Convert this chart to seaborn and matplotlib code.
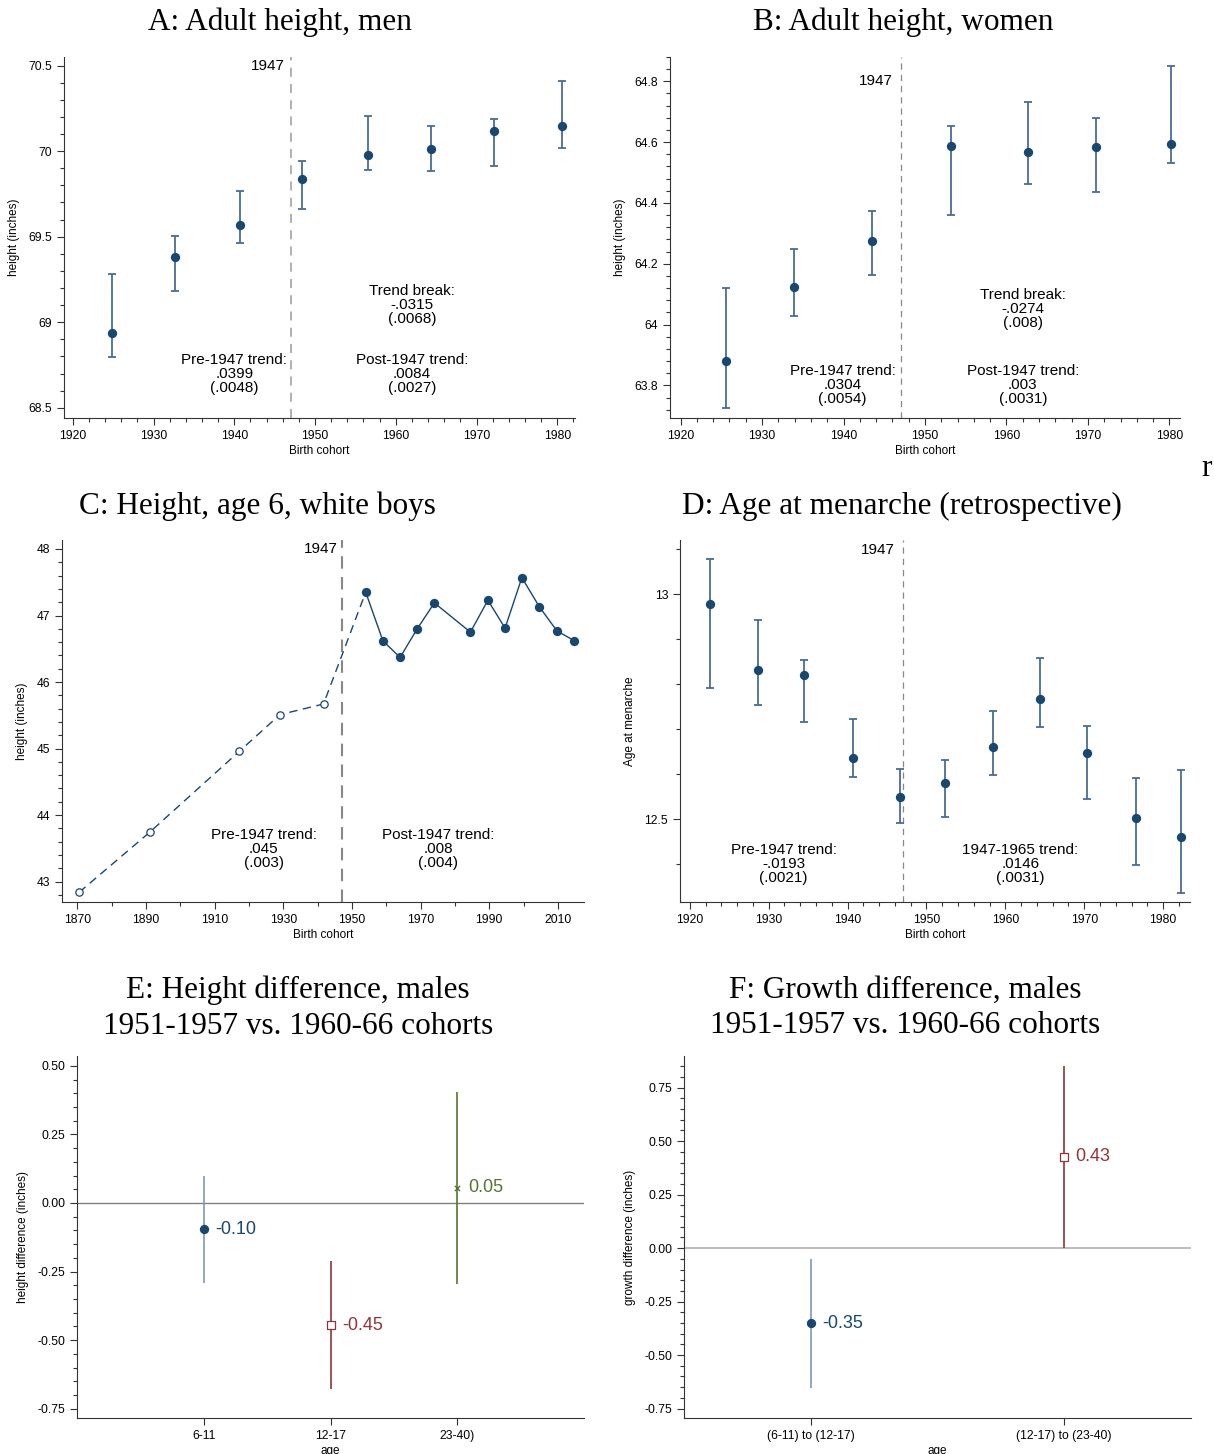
import numpy as np
import pandas as pd
import matplotlib
matplotlib.use("Agg")
import matplotlib.pyplot as plt
from matplotlib.ticker import MultipleLocator, FormatStrFormatter
import seaborn as sns

# --- data ---
# A: adult height, men
a_year = [1924.9, 1932.6, 1940.7, 1948.4, 1956.5, 1964.4, 1972.2, 1980.6]
a_mean = [68.934, 69.38, 69.567, 69.836, 69.978, 70.015, 70.116, 70.144]
a_lo = [68.796, 69.18, 69.464, 69.66, 69.89, 69.883, 69.91, 70.019]
a_hi = [69.28, 69.503, 69.766, 69.945, 70.204, 70.146, 70.185, 70.412]

# B: adult height, women
b_year = [1925.6, 1933.9, 1943.5, 1953.2, 1962.6, 1971.0, 1980.2]
b_mean = [63.882, 64.124, 64.274, 64.589, 64.569, 64.585, 64.593]
b_lo = [63.726, 64.028, 64.162, 64.361, 64.462, 64.436, 64.531]
b_hi = [64.121, 64.249, 64.375, 64.654, 64.733, 64.678, 64.849]

# C: height at age 6, white boys
c_pre_year = [1870.5, 1891, 1917.2, 1929, 1941.7]
c_pre_height = [42.84, 43.74, 44.96, 45.51, 45.67]
c_post_year = [1954, 1959, 1964, 1969, 1974, 1984.5, 1989.6, 1994.6, 1999.5, 2004.6, 2009.7, 2014.8]
c_post_height = [47.35, 46.62, 46.37, 46.80, 47.19, 46.75, 47.23, 46.81, 47.57, 47.13, 46.77, 46.62]

# D: age at menarche
d_year = [1922.5, 1928.6, 1934.5, 1940.7, 1946.7, 1952.4, 1958.4, 1964.4, 1970.3, 1976.5, 1982.2]
d_mean = [12.979, 12.831, 12.820, 12.637, 12.550, 12.580, 12.660, 12.767, 12.648, 12.503, 12.461]
d_lo = [12.792, 12.753, 12.716, 12.593, 12.492, 12.504, 12.598, 12.706, 12.544, 12.399, 12.337]
d_hi = [13.078, 12.942, 12.854, 12.723, 12.611, 12.632, 12.741, 12.859, 12.707, 12.592, 12.610]

# E: height difference by age
e_age = ["6-11", "12-17", "23-40)"]
e_diff = [-0.096, -0.446, 0.055]
e_lo = [-0.291, -0.680, -0.295]
e_hi = [0.099, -0.213, 0.403]
e_text = ["-0.10", "-0.45", "0.05"]

# F: growth difference
f_age = ["(6-11) to (12-17)", "(12-17) to (23-40)"]
f_diff = [-0.350, 0.428]
f_lo = [-0.652, 0.0]
f_hi = [-0.049, 0.853]
f_text = ["-0.35", "0.43"]

navy = "#1a476f"
ci_blue = "#4a6d94"
ci_light = "#7f99b9"
maroon = "#90353b"
green = "#55752f"

W, H = 1214, 1454
sns.set_style("ticks")
plt.rcParams["font.family"] = ["Liberation Sans", "DejaVu Sans"]
plt.rcParams["axes.edgecolor"] = "#333333"
plt.rcParams["xtick.color"] = "#333333"
plt.rcParams["ytick.color"] = "#333333"
plt.rcParams["text.color"] = "black"
plt.rcParams["axes.labelcolor"] = "black"

fig = plt.figure(figsize=(W / 100, H / 100), dpi=100)


def make_ax(left, top, right, bottom):
    return fig.add_axes([left / W, 1 - bottom / H, (right - left) / W, (bottom - top) / H])


def style(ax, xlabel, ylabel):
    sns.despine(ax=ax)
    ax.tick_params(axis="both", which="major", labelsize=8.7, length=5, width=0.8, labelcolor="black")
    ax.tick_params(axis="both", which="minor", length=3, width=0.8)
    ax.set_xlabel(xlabel, fontsize=8.5, labelpad=2)
    ax.set_ylabel(ylabel, fontsize=8.5, labelpad=6)
    ax.grid(False)


def title(x, y, s):
    fig.text(x / W, 1 - y / H, s, ha="center", va="center", fontsize=22.5,
             family=["Liberation Serif", "DejaVu Serif"], linespacing=1.3)


def note(ax, x, y, s):
    ax.text(x, y, s, ha="center", va="center", fontsize=11, linespacing=1.0)


def cohort_panel(ax, year, mean, lo, hi):
    mean = np.array(mean)
    ax.errorbar(year, mean, yerr=[mean - np.array(lo), np.array(hi) - mean], fmt="none",
                ecolor=ci_blue, elinewidth=1.3, capsize=3, capthick=1.3, zorder=2)
    sns.scatterplot(x=year, y=mean, ax=ax, color=navy, s=45, edgecolor=navy, linewidth=0, zorder=3)


# ---------------- A ----------------
ax = make_ax(64, 57, 575, 418)
cohort_panel(ax, a_year, a_mean, a_lo, a_hi)
ax.axvline(1947, color="#aaaaaa", ls=(0, (5, 4)), lw=1.3, zorder=1)
ax.set_xlim(1918.9, 1982.2)
ax.set_ylim(68.44, 70.55)
ax.set_yticks([68.5, 69, 69.5, 70, 70.5])
ax.set_yticklabels(["68.5", "69", "69.5", "70", "70.5"])
ax.set_xticks(range(1920, 1981, 10))
ax.xaxis.set_minor_locator(MultipleLocator(2))
ax.yaxis.set_minor_locator(MultipleLocator(0.1))
ax.text(1946.2, 70.5, "1947", ha="right", va="center", fontsize=11)
note(ax, 1940, 68.70, "Pre-1947 trend:\n.0399\n(.0048)")
note(ax, 1962, 68.70, "Post-1947 trend:\n.0084\n(.0027)")
note(ax, 1962, 69.10, "Trend break:\n-.0315\n(.0068)")
style(ax, "Birth cohort", "height (inches)")
title(280, 22, "A: Adult height, men")

# ---------------- B ----------------
ax = make_ax(670, 57, 1180, 418)
cohort_panel(ax, b_year, b_mean, b_lo, b_hi)
ax.axvline(1947, color="#888888", ls=(0, (5, 4)), lw=0.9, zorder=1)
ax.set_xlim(1918.7, 1981.3)
ax.set_ylim(63.693, 64.88)
ax.set_yticks([63.8, 64, 64.2, 64.4, 64.6, 64.8])
ax.set_yticklabels(["63.8", "64", "64.2", "64.4", "64.6", "64.8"])
ax.set_xticks(range(1920, 1981, 10))
ax.xaxis.set_minor_locator(MultipleLocator(2))
ax.yaxis.set_minor_locator(MultipleLocator(0.04))
ax.text(1946.0, 64.8, "1947", ha="right", va="center", fontsize=11)
note(ax, 1939.9, 63.80, "Pre-1947 trend:\n.0304\n(.0054)")
note(ax, 1962, 63.80, "Post-1947 trend:\n.003\n(.0031)")
note(ax, 1962, 64.05, "Trend break:\n-.0274\n(.008)")
style(ax, "Birth cohort", "height (inches)")
title(903, 22, "B: Adult height, women")

fig.text(1207 / W, 1 - 468 / H, "r", ha="center", va="center", fontsize=22.5,
         family=["Liberation Serif", "DejaVu Serif"])

# ---------------- C ----------------
ax = make_ax(62, 540, 584, 902)
dash_x = c_pre_year + c_post_year[:1]
dash_y = c_pre_height + c_post_height[:1]
sns.lineplot(x=dash_x, y=dash_y, ax=ax, color=navy, lw=1.0, sort=False, zorder=2)
ax.lines[-1].set_linestyle((0, (6, 4)))
sns.lineplot(x=c_post_year, y=c_post_height, ax=ax, color=navy, lw=1.0, sort=False, zorder=2)
sns.scatterplot(x=c_pre_year, y=c_pre_height, ax=ax, s=28, facecolor="white",
                edgecolor=navy, linewidth=0.9, zorder=3)
sns.scatterplot(x=c_post_year, y=c_post_height, ax=ax, s=45, color=navy, linewidth=0, zorder=3)
ax.axvline(1947, color="#888888", ls=(0, (6, 4)), lw=1.5, zorder=1)
ax.set_xlim(1865.5, 2017.6)
ax.set_ylim(42.694, 48.135)
ax.set_yticks(range(43, 49))
ax.set_xticks(range(1870, 2011, 20))
ax.xaxis.set_minor_locator(MultipleLocator(10))
ax.yaxis.set_minor_locator(MultipleLocator(0.2))
ax.text(1945.8, 48.0, "1947", ha="right", va="center", fontsize=11)
note(ax, 1924.3, 43.49, "Pre-1947 trend:\n.045\n(.003)")
note(ax, 1975.2, 43.49, "Post-1947 trend:\n.008\n(.004)")
style(ax, "Birth cohort", "height (inches)")
title(257, 506, "C: Height, age 6, white boys")

# ---------------- D ----------------
ax = make_ax(680, 540, 1190, 902)
cohort_panel(ax, d_year, d_mean, d_lo, d_hi)
ax.axvline(1947, color="#888888", ls=(0, (5, 4)), lw=0.9, zorder=1)
ax.set_xlim(1918.76, 1983.4)
ax.set_ylim(12.316, 13.121)
ax.set_yticks([12.5, 13])
ax.set_yticklabels(["12.5", "13"])
ax.set_xticks(range(1920, 1981, 10))
ax.xaxis.set_minor_locator(MultipleLocator(2))
ax.yaxis.set_minor_locator(MultipleLocator(0.1))
ax.text(1946.0, 13.099, "1947", ha="right", va="center", fontsize=11)
note(ax, 1931.9, 12.40, "Pre-1947 trend:\n-.0193\n(.0021)")
note(ax, 1961.9, 12.40, "1947-1965 trend:\n.0146\n(.0031)")
style(ax, "Birth cohort", "Age at menarche")
title(902, 506, "D: Age at menarche (retrospective)")

# ---------------- E ----------------
ax = make_ax(77, 1056, 584, 1418)
e_pos = np.arange(len(e_age))
ax.axhline(0, color="#808080", lw=1.0, zorder=1)
ax.vlines(e_pos, e_lo, e_hi, colors=[ci_light, maroon, green], lw=1.2, zorder=2)
sns.scatterplot(x=e_pos[:1], y=e_diff[:1], ax=ax, marker="o", s=45, color=navy, linewidth=0, zorder=3)
sns.scatterplot(x=e_pos[1:2], y=e_diff[1:2], ax=ax, marker="s", s=38, facecolor="white",
                edgecolor=maroon, linewidth=0.9, zorder=3)
sns.scatterplot(x=e_pos[2:], y=e_diff[2:], ax=ax, marker="x", s=14, color=green, linewidth=1.0, zorder=3)
for p, v, t, c in zip(e_pos, e_diff, e_text, [navy, maroon, green]):
    ax.text(p + 0.09, v, t, color=c, fontsize=13, va="center", ha="left")
ax.set_xlim(-1, 3)
ax.set_ylim(-0.784, 0.536)
ax.set_xticks(e_pos)
ax.set_xticklabels(e_age)
ax.set_yticks([-0.75, -0.5, -0.25, 0, 0.25, 0.5])
ax.yaxis.set_major_formatter(FormatStrFormatter("%.2f"))
ax.yaxis.set_minor_locator(MultipleLocator(0.05))
style(ax, "age", "height difference (inches)")
title(298, 1008, "E: Height difference, males\n1951-1957 vs. 1960-66 cohorts")

# ---------------- F ----------------
ax = make_ax(684, 1056, 1191, 1418)
f_pos = np.arange(len(f_age))
ax.axhline(0, color="#bdbdbd", lw=1.4, zorder=1)
ax.vlines(f_pos, f_lo, f_hi, colors=[ci_light, maroon], lw=1.2, zorder=2)
sns.scatterplot(x=f_pos[:1], y=f_diff[:1], ax=ax, marker="o", s=45, color=navy, linewidth=0, zorder=3)
sns.scatterplot(x=f_pos[1:], y=f_diff[1:], ax=ax, marker="s", s=38, facecolor="white",
                edgecolor=maroon, linewidth=0.9, zorder=3)
for p, v, t, c in zip(f_pos, f_diff, f_text, [navy, maroon]):
    ax.text(p + 0.045, v, t, color=c, fontsize=13, va="center", ha="left")
ax.set_xlim(-0.5, 1.5)
ax.set_ylim(-0.794, 0.898)
ax.set_xticks(f_pos)
ax.set_xticklabels(f_age)
ax.set_yticks([-0.75, -0.5, -0.25, 0, 0.25, 0.5, 0.75])
ax.yaxis.set_major_formatter(FormatStrFormatter("%.2f"))
ax.yaxis.set_minor_locator(MultipleLocator(0.05))
style(ax, "age", "growth difference (inches)")
title(905, 1008, "F: Growth difference, males\n1951-1957 vs. 1960-66 cohorts")

fig.savefig("out.png", dpi=100, facecolor="white")
